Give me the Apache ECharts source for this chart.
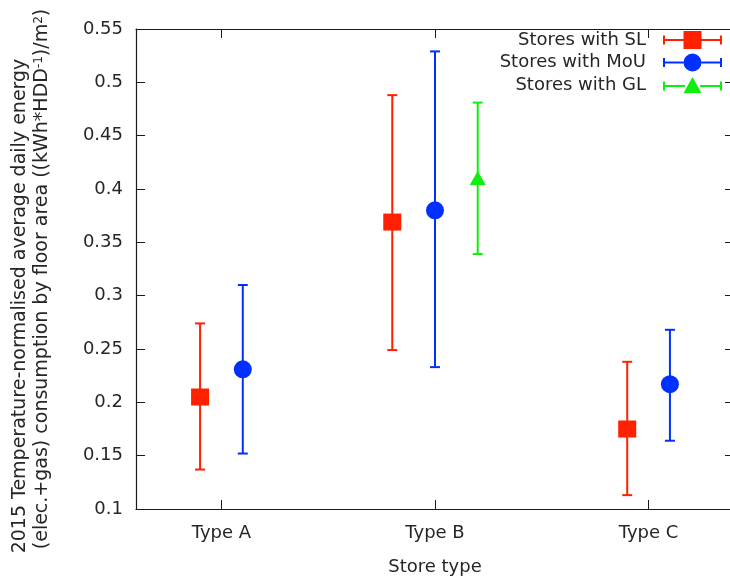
<!DOCTYPE html>
<html>
<head>
<meta charset="utf-8">
<script src="https://cdn.jsdelivr.net/npm/echarts@6/dist/echarts.min.js"></script>
<style>
    html, body {margin: 0; padding: 0; background: #fff;}
    #chart {width: 730px; height: 580px;}
</style>
</head>
<body>
<div id="chart"></div>
<script>
    //分类
    const typeLabels = ['Type A', 'Type B', 'Type C'];
    const typeTicks = [1, 2, 3];

    //Stores with SL
    const slX = [0.9, 1.8, 2.9];
    const slMean = [0.205, 0.369, 0.175];
    const slLow = [0.137, 0.249, 0.113];
    const slHigh = [0.274, 0.488, 0.238];

    //Stores with MoU
    const mouX = [1.1, 2.0, 3.1];
    const mouMean = [0.231, 0.380, 0.217];
    const mouLow = [0.152, 0.233, 0.164];
    const mouHigh = [0.310, 0.529, 0.268];

    //Stores with GL
    const glX = [2.2];
    const glMean = [0.408];
    const glLow = [0.339];
    const glHigh = [0.481];

    const FONT = '"DejaVu Sans", Verdana, sans-serif';
    const TEXT_COLOR = '#262626';
    const AXIS_COLOR = '#1a1a1a';

    const COLORS = {sl: '#ff2000', mou: '#0030ff', gl: '#10ee10'};

    //图例图标
    const ICON_SQUARE = 'path://M0,4.5H2V8H20.5V0H38.5V8H57V4.5H59V13.5H57V10H38.5V18H20.5V10H2V13.5H0Z';
    const ICON_CIRCLE = 'path://M0,4.5H2V8H20.5V10H2V13.5H0Z M38.5,8H57V4.5H59V13.5H57V10H38.5Z M20.5,9A9,9 0 1,1 38.5,9A9,9 0 1,1 20.5,9Z';
    const ICON_TRIANGLE = 'path://M0,4.5H2V8H22V10H2V13.5H0Z M37,8H57V4.5H59V13.5H57V10H37Z M29.5,0L38.5,16L20.5,16Z';

    const buildData = (xs, mean, low, high) => xs.map((x, i) => [x, mean[i], low[i], high[i]]);

    /**
     * 误差线 + 点
     */
    const errorBarRender = shape => (params, api) => {
        const x = api.value(0);
        const pM = api.coord([x, api.value(1)]);
        const pLo = api.coord([x, api.value(2)]);
        const pHi = api.coord([x, api.value(3)]);
        const color = api.visual('color');
        const cap = 5;
        const lineStyle = {stroke: color, lineWidth: 2, fill: null};
        let marker;
        if (shape === 'square') {
            marker = {type: 'rect', shape: {x: pM[0] - 9, y: pM[1] - 8.5, width: 18, height: 17}, style: {fill: color}};
        } else if (shape === 'circle') {
            marker = {type: 'circle', shape: {cx: pM[0], cy: pM[1], r: 9}, style: {fill: color}};
        } else {
            marker = {
                type: 'polygon',
                shape: {points: [[pM[0], pM[1] - 9.5], [pM[0] + 8, pM[1] + 4.5], [pM[0] - 8, pM[1] + 4.5]]},
                style: {fill: color}
            };
        }
        return {
            type: 'group',
            children: [
                {type: 'line', shape: {x1: pLo[0], y1: pLo[1], x2: pHi[0], y2: pHi[1]}, style: lineStyle},
                {type: 'line', shape: {x1: pLo[0] - cap, y1: pLo[1], x2: pLo[0] + cap, y2: pLo[1]}, style: lineStyle},
                {type: 'line', shape: {x1: pHi[0] - cap, y1: pHi[1], x2: pHi[0] + cap, y2: pHi[1]}, style: lineStyle},
                marker
            ]
        };
    };

    const makeSeries = (name, shape, color, data) => ({
        type: 'custom',
        name: name,
        renderItem: errorBarRender(shape),
        itemStyle: {color: color},
        encode: {x: 0, y: 1},
        dimensions: ['x', 'mean', 'low', 'high'],
        data: data,
        z: 3
    });

    const chart = echarts.init(document.getElementById('chart'));

    const tickStyle = {show: true, inside: true, length: 9, lineStyle: {color: AXIS_COLOR, width: 1}};
    const axisLine = {show: true, lineStyle: {color: AXIS_COLOR, width: 1.2}};

    const option = {
        animation: false,
        backgroundColor: '#fff',
        grid: {left: 136, top: 29, width: 598, height: 480, outerBoundsMode: 'none'},
        legend: {
            orient: 'vertical',
            align: 'right',
            right: 8,
            top: 31,
            padding: 0,
            itemWidth: 59,
            itemHeight: 18,
            itemGap: 4.5,
            selectedMode: false,
            textStyle: {fontFamily: FONT, fontSize: 18, color: TEXT_COLOR, padding: [0, 12, 0, 0]},
            data: [
                {name: 'Stores with SL', icon: ICON_SQUARE},
                {name: 'Stores with MoU', icon: ICON_CIRCLE},
                {name: 'Stores with GL', icon: ICON_TRIANGLE}
            ]
        },
        xAxis: [
            {
                type: 'value',
                min: 0.6,
                max: 3.4,
                name: 'Store type',
                nameLocation: 'middle',
                nameGap: 49,
                nameTextStyle: {fontFamily: FONT, fontSize: 18, color: TEXT_COLOR},
                axisLine: axisLine,
                axisTick: Object.assign({customValues: typeTicks}, tickStyle),
                axisLabel: {
                    customValues: typeTicks,
                    formatter: v => typeLabels[Math.round(v) - 1],
                    fontFamily: FONT, fontSize: 18, color: TEXT_COLOR, margin: 15
                },
                splitLine: {show: false}
            },
            {
                type: 'value',
                position: 'top',
                min: 0.6,
                max: 3.4,
                axisLine: axisLine,
                axisTick: Object.assign({customValues: typeTicks}, tickStyle),
                axisLabel: {show: false},
                splitLine: {show: false}
            }
        ],
        yAxis: [
            {
                type: 'value',
                min: 0.1,
                max: 0.55,
                interval: 0.05,
                axisLine: axisLine,
                axisTick: tickStyle,
                axisLabel: {fontFamily: FONT, fontSize: 18, color: TEXT_COLOR, margin: 13},
                splitLine: {show: false}
            },
            {
                type: 'value',
                position: 'right',
                min: 0.1,
                max: 0.55,
                interval: 0.05,
                axisLine: axisLine,
                axisTick: tickStyle,
                axisLabel: {show: false},
                splitLine: {show: false}
            }
        ],
        graphic: [
            {
                type: 'text',
                x: 20, y: 306, rotation: Math.PI / 2,
                style: {
                    text: '2015 Temperature-normalised average daily energy',
                    font: '19px ' + FONT, fill: TEXT_COLOR,
                    align: 'center', verticalAlign: 'middle'
                }
            },
            {
                type: 'text',
                x: 42, y: 279, rotation: Math.PI / 2,
                style: {
                    text: '(elec.+gas) consumption by floor area ((kWh*HDD{sup|-1})/m{sup|2})',
                    font: '19px ' + FONT, fill: TEXT_COLOR,
                    align: 'center', verticalAlign: 'middle',
                    rich: {sup: {fontSize: 12, verticalAlign: 'top', fontFamily: FONT, fill: TEXT_COLOR}}
                }
            }
        ],
        series: [
            makeSeries('Stores with SL', 'square', COLORS.sl, buildData(slX, slMean, slLow, slHigh)),
            makeSeries('Stores with MoU', 'circle', COLORS.mou, buildData(mouX, mouMean, mouLow, mouHigh)),
            makeSeries('Stores with GL', 'triangle', COLORS.gl, buildData(glX, glMean, glLow, glHigh))
        ]
    };

    chart.setOption(option);
</script>
</body>
</html>
